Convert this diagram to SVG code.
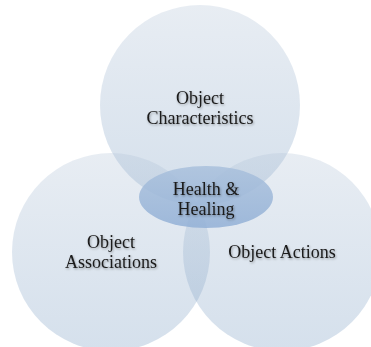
<svg xmlns="http://www.w3.org/2000/svg" width="371" height="347" viewBox="0 0 371 347">
<defs>
<linearGradient id="cg" x1="0" y1="0" x2="0" y2="1">
<stop offset="0" stop-color="#b2c3d7"/>
<stop offset="1" stop-color="#7398c0"/>
</linearGradient>
<linearGradient id="eg" x1="0" y1="0" x2="0" y2="1">
<stop offset="0" stop-color="#a9c0dc"/>
<stop offset="1" stop-color="#92b0d6"/>
</linearGradient>
<filter id="ts" x="-10%" y="-30%" width="120%" height="160%">
<feDropShadow dx="0.8" dy="1.2" stdDeviation="0.8" flood-color="#000" flood-opacity="0.35"/>
</filter>
</defs>
<style>
.c{fill:url(#cg);fill-opacity:0.3}
.t{font-family:"Liberation Serif",serif;font-size:18px;fill:#1a1a1a;text-anchor:middle;filter:url(#ts)}
</style>
<rect width="371" height="347" fill="#ffffff"/>
<g id="top">
<circle class="c" cx="200" cy="105" r="100"/>
<text class="t" x="200" y="104">Object</text>
<text class="t" x="200" y="124">Characteristics</text>
</g>
<g id="left">
<circle class="c" cx="111" cy="252" r="99"/>
<text class="t" x="111" y="248">Object</text>
<text class="t" x="111" y="268">Associations</text>
</g>
<g id="right">
<circle class="c" cx="282" cy="252" r="99"/>
<text class="t" x="282" y="258">Object Actions</text>
</g>
<g id="center">
<ellipse cx="206" cy="197" rx="67" ry="31" fill="url(#eg)" fill-opacity="0.85"/>
<text class="t" x="206" y="195">Health &amp;</text>
<text class="t" x="206" y="215">Healing</text>
</g>
<g id="connectors"/>
</svg>
